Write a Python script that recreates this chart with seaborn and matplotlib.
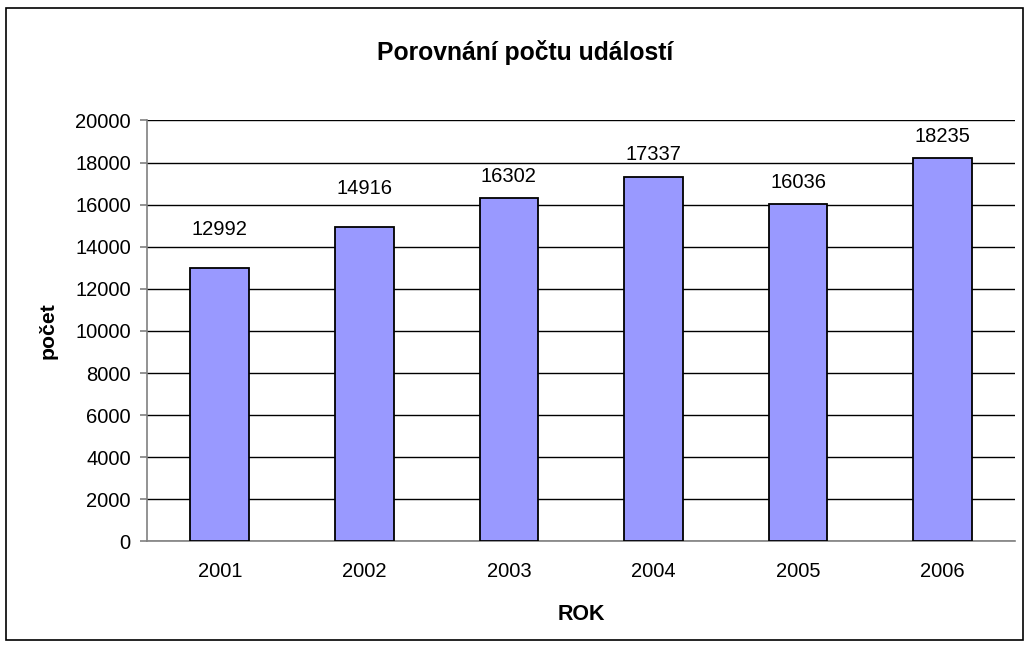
import numpy as np
import pandas as pd
import seaborn as sns
from matplotlib import pyplot as plt
from matplotlib.patches import Rectangle

roky = ['2001', '2002', '2003', '2004', '2005', '2006']
pocty = [12992, 14916, 16302, 17337, 16036, 18235]

df = pd.DataFrame({'rok': roky, 'pocet': pocty})

sns.set_style('white')
plt.rcParams['font.family'] = ['Liberation Sans', 'DejaVu Sans']
plt.rcParams['text.color'] = 'black'
plt.rcParams['axes.labelcolor'] = 'black'
plt.rcParams['xtick.color'] = 'black'
plt.rcParams['ytick.color'] = 'black'

fig = plt.figure(figsize=(10.29, 6.48), dpi=100)
ax = fig.add_axes([0.1433, 0.1644, 0.8431, 0.6497])

sns.barplot(data=df, x='rok', y='pocet', color='#9999FF', width=0.405,
            edgecolor='black', linewidth=1.3, saturation=1, ax=ax, zorder=3)

ax.set_ylim(0, 20000)
ax.set_xlim(-0.5, len(roky) - 0.5)
ax.set_yticks(np.arange(0, 20001, 2000))
ax.yaxis.grid(True, color='black', linewidth=1)
ax.set_axisbelow(True)

for s in ['top', 'right']:
    ax.spines[s].set_visible(False)
for s in ['left', 'bottom']:
    ax.spines[s].set_color('#808080')
    ax.spines[s].set_linewidth(1.2)

ax.set_xticks(np.arange(-0.5, len(roky)), minor=True)
ax.tick_params(axis='x', which='major', length=0, pad=15, labelsize=14.5)
ax.tick_params(axis='x', which='minor', length=5, color='#808080', width=1.2, direction='out')
ax.tick_params(axis='y', length=5, color='#808080', width=1.2, direction='out', labelsize=14.5, pad=7)
ax.tick_params(bottom=True, left=True)

# excel posunul popisky u prvnich dvou sloupcu vys
odsazeni = [21, 21, 8.7, 8.7, 8.7, 8.7]
for bar, v, p in zip(ax.containers[0], pocty, odsazeni):
    ax.annotate(str(v), (bar.get_x() + bar.get_width() / 2, bar.get_height()),
                xytext=(0, p), textcoords='offset points', ha='center', va='bottom',
                fontsize=14.5)

ax.set_xlabel('ROK', fontsize=15.5, fontweight='bold', labelpad=16)
ax.set_ylabel('počet', fontsize=15.3, fontweight='bold', labelpad=12.5)
fig.text(0.51, 0.919, 'Porovnání počtu událostí', ha='center', va='center',
         fontsize=17.8, fontweight='bold')

fig.patches.append(Rectangle((0.006, 0.012), 0.988, 0.975, transform=fig.transFigure,
                             fill=False, edgecolor='black', linewidth=1.2))

plt.savefig('out.png', dpi=100)
